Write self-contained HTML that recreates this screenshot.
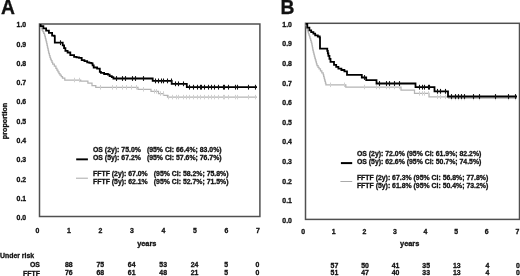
<!DOCTYPE html>
<html><head><meta charset="utf-8"><style>
html,body{margin:0;padding:0;background:#fff;width:520px;height:276px;overflow:hidden}
svg{display:block;will-change:transform}
text{font-family:"Liberation Sans", sans-serif;font-weight:bold;fill:#111;stroke:#111;stroke-width:0.3px}
</style></head><body>
<svg width="520" height="276" viewBox="0 0 520 276">
<rect x="39.5" y="24.0" width="220.40" height="192.50" fill="none" stroke="#505050" stroke-width="1.5"/>
<rect x="305.5" y="23.3" width="214.00" height="196.10" fill="none" stroke="#505050" stroke-width="1.5"/>
<path d="M39.60 24.80H40.50V26.80H41.30V28.44H42.10V30.08H42.90V31.72H43.70V33.36H44.50V35.00H44.94V36.74H45.38V38.48H45.82V40.22H46.26V41.96H46.70V43.70H47.07V45.37H47.43V47.03H47.80V48.70H48.17V50.37H48.53V52.03H48.90V53.70H49.43V55.50H49.97V57.30H50.50V59.10H51.23V60.73H51.97V62.37H52.70V64.00H54.30V66.20H55.90V68.40H56.92V70.10H57.95V71.80H58.98V73.50H60.00V75.20H61.25V76.60H62.50V78.00H64.80V79.80V80.00H80.70V81.20H87.90V83.20H92.00V85.60H95.80V87.30H138.00V89.30H151.00V91.30H158.50V93.50H163.50V95.40H167.50V97.10H257.00" fill="none" stroke="#b4b4b4" stroke-width="1.25"/>
<line x1="74.50" y1="77.75" x2="74.50" y2="82.25" stroke="#d0d0d0" stroke-width="1"/><line x1="79.50" y1="77.75" x2="79.50" y2="82.25" stroke="#d0d0d0" stroke-width="1"/><line x1="100.50" y1="85.05" x2="100.50" y2="89.55" stroke="#d0d0d0" stroke-width="1"/><line x1="112.50" y1="85.05" x2="112.50" y2="89.55" stroke="#d0d0d0" stroke-width="1"/><line x1="116.50" y1="85.05" x2="116.50" y2="89.55" stroke="#d0d0d0" stroke-width="1"/><line x1="122.50" y1="85.05" x2="122.50" y2="89.55" stroke="#d0d0d0" stroke-width="1"/><line x1="126.50" y1="85.05" x2="126.50" y2="89.55" stroke="#d0d0d0" stroke-width="1"/><line x1="131.50" y1="85.05" x2="131.50" y2="89.55" stroke="#d0d0d0" stroke-width="1"/><line x1="136.50" y1="85.05" x2="136.50" y2="89.55" stroke="#d0d0d0" stroke-width="1"/><line x1="143.50" y1="87.05" x2="143.50" y2="91.55" stroke="#d0d0d0" stroke-width="1"/><line x1="154.50" y1="89.05" x2="154.50" y2="93.55" stroke="#d0d0d0" stroke-width="1"/><line x1="156.50" y1="89.05" x2="156.50" y2="93.55" stroke="#d0d0d0" stroke-width="1"/><line x1="160.50" y1="91.25" x2="160.50" y2="95.75" stroke="#d0d0d0" stroke-width="1"/><line x1="163.50" y1="91.25" x2="163.50" y2="95.75" stroke="#d0d0d0" stroke-width="1"/><line x1="168.50" y1="94.85" x2="168.50" y2="99.35" stroke="#d0d0d0" stroke-width="1"/><line x1="172.50" y1="94.85" x2="172.50" y2="99.35" stroke="#d0d0d0" stroke-width="1"/><line x1="176.50" y1="94.85" x2="176.50" y2="99.35" stroke="#d0d0d0" stroke-width="1"/><line x1="178.50" y1="94.85" x2="178.50" y2="99.35" stroke="#d0d0d0" stroke-width="1"/><line x1="183.50" y1="94.85" x2="183.50" y2="99.35" stroke="#d0d0d0" stroke-width="1"/><line x1="186.50" y1="94.85" x2="186.50" y2="99.35" stroke="#d0d0d0" stroke-width="1"/><line x1="189.50" y1="94.85" x2="189.50" y2="99.35" stroke="#d0d0d0" stroke-width="1"/><line x1="193.50" y1="94.85" x2="193.50" y2="99.35" stroke="#d0d0d0" stroke-width="1"/><line x1="197.50" y1="94.85" x2="197.50" y2="99.35" stroke="#d0d0d0" stroke-width="1"/><line x1="200.50" y1="94.85" x2="200.50" y2="99.35" stroke="#d0d0d0" stroke-width="1"/><line x1="204.50" y1="94.85" x2="204.50" y2="99.35" stroke="#d0d0d0" stroke-width="1"/><line x1="208.50" y1="94.85" x2="208.50" y2="99.35" stroke="#d0d0d0" stroke-width="1"/><line x1="211.50" y1="94.85" x2="211.50" y2="99.35" stroke="#d0d0d0" stroke-width="1"/><line x1="214.50" y1="94.85" x2="214.50" y2="99.35" stroke="#d0d0d0" stroke-width="1"/><line x1="218.50" y1="94.85" x2="218.50" y2="99.35" stroke="#d0d0d0" stroke-width="1"/><line x1="223.50" y1="94.85" x2="223.50" y2="99.35" stroke="#d0d0d0" stroke-width="1"/><line x1="224.50" y1="94.85" x2="224.50" y2="99.35" stroke="#d0d0d0" stroke-width="1"/><line x1="228.50" y1="94.85" x2="228.50" y2="99.35" stroke="#d0d0d0" stroke-width="1"/><line x1="235.50" y1="94.85" x2="235.50" y2="99.35" stroke="#d0d0d0" stroke-width="1"/><line x1="237.50" y1="94.85" x2="237.50" y2="99.35" stroke="#d0d0d0" stroke-width="1"/><line x1="248.50" y1="94.85" x2="248.50" y2="99.35" stroke="#d0d0d0" stroke-width="1"/><line x1="255.50" y1="94.85" x2="255.50" y2="99.35" stroke="#d0d0d0" stroke-width="1"/>
<path d="M39.60 24.80H40.60V26.20H43.37V28.43H46.13V30.67H48.90V32.90H52.10V35.60H54.30V36.10H54.80V42.70H61.40H62.73V45.43H64.07V48.17H65.40V50.90H67.60V52.50H70.30V55.20H74.10V56.80H76.55V57.35H79.00V57.90H81.70V60.10H84.45V61.20H87.20V62.30H89.35V62.85H91.50V63.40H92.60V65.45H93.70V67.50H97.10V68.60H99.80V71.80H100.90V72.90H104.10V74.00H107.90V74.60H109.60V76.20H111.80V77.10H113.40V78.50H152.70V80.90H171.70V83.80H186.80V87.20H257.00" fill="none" stroke="#000" stroke-width="1.8"/>
<line x1="60.50" y1="40.30" x2="60.50" y2="45.10" stroke="#111" stroke-width="1.1"/><line x1="116.50" y1="76.10" x2="116.50" y2="80.90" stroke="#111" stroke-width="1.1"/><line x1="122.50" y1="76.10" x2="122.50" y2="80.90" stroke="#111" stroke-width="1.1"/><line x1="125.50" y1="76.10" x2="125.50" y2="80.90" stroke="#111" stroke-width="1.1"/><line x1="132.50" y1="76.10" x2="132.50" y2="80.90" stroke="#111" stroke-width="1.1"/><line x1="135.50" y1="76.10" x2="135.50" y2="80.90" stroke="#111" stroke-width="1.1"/><line x1="143.50" y1="76.10" x2="143.50" y2="80.90" stroke="#111" stroke-width="1.1"/><line x1="155.50" y1="78.50" x2="155.50" y2="83.30" stroke="#111" stroke-width="1.1"/><line x1="158.50" y1="78.50" x2="158.50" y2="83.30" stroke="#111" stroke-width="1.1"/><line x1="161.50" y1="78.50" x2="161.50" y2="83.30" stroke="#111" stroke-width="1.1"/><line x1="163.50" y1="78.50" x2="163.50" y2="83.30" stroke="#111" stroke-width="1.1"/><line x1="167.50" y1="78.50" x2="167.50" y2="83.30" stroke="#111" stroke-width="1.1"/><line x1="171.50" y1="78.50" x2="171.50" y2="83.30" stroke="#111" stroke-width="1.1"/><line x1="175.50" y1="81.40" x2="175.50" y2="86.20" stroke="#111" stroke-width="1.1"/><line x1="178.50" y1="81.40" x2="178.50" y2="86.20" stroke="#111" stroke-width="1.1"/><line x1="183.50" y1="81.40" x2="183.50" y2="86.20" stroke="#111" stroke-width="1.1"/><line x1="189.50" y1="84.80" x2="189.50" y2="89.60" stroke="#111" stroke-width="1.1"/><line x1="193.50" y1="84.80" x2="193.50" y2="89.60" stroke="#111" stroke-width="1.1"/><line x1="197.50" y1="84.80" x2="197.50" y2="89.60" stroke="#111" stroke-width="1.1"/><line x1="200.50" y1="84.80" x2="200.50" y2="89.60" stroke="#111" stroke-width="1.1"/><line x1="201.50" y1="84.80" x2="201.50" y2="89.60" stroke="#111" stroke-width="1.1"/><line x1="204.50" y1="84.80" x2="204.50" y2="89.60" stroke="#111" stroke-width="1.1"/><line x1="208.50" y1="84.80" x2="208.50" y2="89.60" stroke="#111" stroke-width="1.1"/><line x1="211.50" y1="84.80" x2="211.50" y2="89.60" stroke="#111" stroke-width="1.1"/><line x1="214.50" y1="84.80" x2="214.50" y2="89.60" stroke="#111" stroke-width="1.1"/><line x1="218.50" y1="84.80" x2="218.50" y2="89.60" stroke="#111" stroke-width="1.1"/><line x1="223.50" y1="84.80" x2="223.50" y2="89.60" stroke="#111" stroke-width="1.1"/><line x1="224.50" y1="84.80" x2="224.50" y2="89.60" stroke="#111" stroke-width="1.1"/><line x1="228.50" y1="84.80" x2="228.50" y2="89.60" stroke="#111" stroke-width="1.1"/><line x1="235.50" y1="84.80" x2="235.50" y2="89.60" stroke="#111" stroke-width="1.1"/><line x1="237.50" y1="84.80" x2="237.50" y2="89.60" stroke="#111" stroke-width="1.1"/><line x1="248.50" y1="84.80" x2="248.50" y2="89.60" stroke="#111" stroke-width="1.1"/><line x1="255.50" y1="84.80" x2="255.50" y2="89.60" stroke="#111" stroke-width="1.1"/>
<path d="M305.50 23.50H305.93V25.23H306.37V26.97H306.80V28.70H307.35V30.32H307.90V31.95H308.45V33.58H309.00V35.20H309.54V36.94H310.08V38.68H310.62V40.42H311.16V42.16H311.70V43.90H312.07V45.93H312.43V47.97H312.80V50.00H313.30V52.00H313.80V54.00H314.30V56.00H314.80V58.00H315.35V59.92H315.90V61.85H316.45V63.78H317.00V65.70H318.05V67.30H319.10V68.90H320.47V70.83H321.83V72.77H323.20V74.70H323.65V76.38H324.10V78.07H324.55V79.75H325.00V81.43H325.45V83.12H325.90V84.80H345.80V87.00H401.00V90.10H414.50V93.40H429.00V96.80H448.50V98.00H517.00" fill="none" stroke="#b4b4b4" stroke-width="1.25"/>
<line x1="330.50" y1="82.55" x2="330.50" y2="87.05" stroke="#d0d0d0" stroke-width="1"/><line x1="344.50" y1="82.55" x2="344.50" y2="87.05" stroke="#d0d0d0" stroke-width="1"/><line x1="364.50" y1="84.75" x2="364.50" y2="89.25" stroke="#d0d0d0" stroke-width="1"/><line x1="376.50" y1="84.75" x2="376.50" y2="89.25" stroke="#d0d0d0" stroke-width="1"/><line x1="379.50" y1="84.75" x2="379.50" y2="89.25" stroke="#d0d0d0" stroke-width="1"/><line x1="386.50" y1="84.75" x2="386.50" y2="89.25" stroke="#d0d0d0" stroke-width="1"/><line x1="389.50" y1="84.75" x2="389.50" y2="89.25" stroke="#d0d0d0" stroke-width="1"/><line x1="394.50" y1="84.75" x2="394.50" y2="89.25" stroke="#d0d0d0" stroke-width="1"/><line x1="399.50" y1="84.75" x2="399.50" y2="89.25" stroke="#d0d0d0" stroke-width="1"/><line x1="419.50" y1="91.15" x2="419.50" y2="95.65" stroke="#d0d0d0" stroke-width="1"/><line x1="422.50" y1="91.15" x2="422.50" y2="95.65" stroke="#d0d0d0" stroke-width="1"/><line x1="424.50" y1="91.15" x2="424.50" y2="95.65" stroke="#d0d0d0" stroke-width="1"/><line x1="428.50" y1="91.15" x2="428.50" y2="95.65" stroke="#d0d0d0" stroke-width="1"/><line x1="437.50" y1="94.55" x2="437.50" y2="99.05" stroke="#d0d0d0" stroke-width="1"/><line x1="440.50" y1="94.55" x2="440.50" y2="99.05" stroke="#d0d0d0" stroke-width="1"/><line x1="445.50" y1="94.55" x2="445.50" y2="99.05" stroke="#d0d0d0" stroke-width="1"/><line x1="451.50" y1="95.75" x2="451.50" y2="100.25" stroke="#d0d0d0" stroke-width="1"/><line x1="455.50" y1="95.75" x2="455.50" y2="100.25" stroke="#d0d0d0" stroke-width="1"/><line x1="458.50" y1="95.75" x2="458.50" y2="100.25" stroke="#d0d0d0" stroke-width="1"/><line x1="461.50" y1="95.75" x2="461.50" y2="100.25" stroke="#d0d0d0" stroke-width="1"/><line x1="464.50" y1="95.75" x2="464.50" y2="100.25" stroke="#d0d0d0" stroke-width="1"/><line x1="473.50" y1="95.75" x2="473.50" y2="100.25" stroke="#d0d0d0" stroke-width="1"/><line x1="479.50" y1="95.75" x2="479.50" y2="100.25" stroke="#d0d0d0" stroke-width="1"/><line x1="495.50" y1="95.75" x2="495.50" y2="100.25" stroke="#d0d0d0" stroke-width="1"/><line x1="508.50" y1="95.75" x2="508.50" y2="100.25" stroke="#d0d0d0" stroke-width="1"/><line x1="515.50" y1="95.75" x2="515.50" y2="100.25" stroke="#d0d0d0" stroke-width="1"/>
<path d="M305.60 23.80H307.30V27.60H309.40V30.30H311.20V32.10H313.40V33.60H315.20V35.40H317.80V36.50H319.70V37.60H320.00V48.60H326.70H327.27V50.97H327.83V53.43H328.40V55.90H329.45V58.85H330.50V61.80H334.00V64.90H336.20V66.80H338.40V68.70H341.40V70.00H344.40V71.30H347.00V72.50V74.80H361.80V77.50H366.20V80.20H376.50V83.50H415.50V87.20H434.50V91.30H448.00V96.50H517.00" fill="none" stroke="#000" stroke-width="1.8"/>
<line x1="364.50" y1="75.10" x2="364.50" y2="79.90" stroke="#111" stroke-width="1.1"/><line x1="379.50" y1="81.10" x2="379.50" y2="85.90" stroke="#111" stroke-width="1.1"/><line x1="386.50" y1="81.10" x2="386.50" y2="85.90" stroke="#111" stroke-width="1.1"/><line x1="389.50" y1="81.10" x2="389.50" y2="85.90" stroke="#111" stroke-width="1.1"/><line x1="394.50" y1="81.10" x2="394.50" y2="85.90" stroke="#111" stroke-width="1.1"/><line x1="399.50" y1="81.10" x2="399.50" y2="85.90" stroke="#111" stroke-width="1.1"/><line x1="419.50" y1="84.80" x2="419.50" y2="89.60" stroke="#111" stroke-width="1.1"/><line x1="422.50" y1="84.80" x2="422.50" y2="89.60" stroke="#111" stroke-width="1.1"/><line x1="424.50" y1="84.80" x2="424.50" y2="89.60" stroke="#111" stroke-width="1.1"/><line x1="428.50" y1="84.80" x2="428.50" y2="89.60" stroke="#111" stroke-width="1.1"/><line x1="429.50" y1="84.80" x2="429.50" y2="89.60" stroke="#111" stroke-width="1.1"/><line x1="437.50" y1="88.90" x2="437.50" y2="93.70" stroke="#111" stroke-width="1.1"/><line x1="440.50" y1="88.90" x2="440.50" y2="93.70" stroke="#111" stroke-width="1.1"/><line x1="445.50" y1="88.90" x2="445.50" y2="93.70" stroke="#111" stroke-width="1.1"/><line x1="451.50" y1="94.10" x2="451.50" y2="98.90" stroke="#111" stroke-width="1.1"/><line x1="455.50" y1="94.10" x2="455.50" y2="98.90" stroke="#111" stroke-width="1.1"/><line x1="458.50" y1="94.10" x2="458.50" y2="98.90" stroke="#111" stroke-width="1.1"/><line x1="461.50" y1="94.10" x2="461.50" y2="98.90" stroke="#111" stroke-width="1.1"/><line x1="464.50" y1="94.10" x2="464.50" y2="98.90" stroke="#111" stroke-width="1.1"/><line x1="473.50" y1="94.10" x2="473.50" y2="98.90" stroke="#111" stroke-width="1.1"/><line x1="479.50" y1="94.10" x2="479.50" y2="98.90" stroke="#111" stroke-width="1.1"/><line x1="495.50" y1="94.10" x2="495.50" y2="98.90" stroke="#111" stroke-width="1.1"/><line x1="508.50" y1="94.10" x2="508.50" y2="98.90" stroke="#111" stroke-width="1.1"/><line x1="515.50" y1="94.10" x2="515.50" y2="98.90" stroke="#111" stroke-width="1.1"/>
<text x="1.0" y="14.1" font-size="19.3" text-anchor="start" stroke="#111" stroke-width="0.7">A</text>
<text x="280.6" y="14.1" font-size="19.3" text-anchor="start" stroke="#111" stroke-width="0.7">B</text>
<text x="26.2" y="27.30" font-size="6.9" text-anchor="end" >1.0</text>
<text x="291.9" y="26.80" font-size="6.9" text-anchor="end" >1.0</text>
<text x="26.2" y="46.58" font-size="6.9" text-anchor="end" >0.9</text>
<text x="291.9" y="46.40" font-size="6.9" text-anchor="end" >0.9</text>
<text x="26.2" y="65.86" font-size="6.9" text-anchor="end" >0.8</text>
<text x="291.9" y="66.00" font-size="6.9" text-anchor="end" >0.8</text>
<text x="26.2" y="85.14" font-size="6.9" text-anchor="end" >0.7</text>
<text x="291.9" y="85.60" font-size="6.9" text-anchor="end" >0.7</text>
<text x="26.2" y="104.42" font-size="6.9" text-anchor="end" >0.6</text>
<text x="291.9" y="105.20" font-size="6.9" text-anchor="end" >0.6</text>
<text x="26.2" y="123.70" font-size="6.9" text-anchor="end" >0.5</text>
<text x="291.9" y="124.80" font-size="6.9" text-anchor="end" >0.5</text>
<text x="26.2" y="142.98" font-size="6.9" text-anchor="end" >0.4</text>
<text x="291.9" y="144.40" font-size="6.9" text-anchor="end" >0.4</text>
<text x="26.2" y="162.26" font-size="6.9" text-anchor="end" >0.3</text>
<text x="291.9" y="164.00" font-size="6.9" text-anchor="end" >0.3</text>
<text x="26.2" y="181.54" font-size="6.9" text-anchor="end" >0.2</text>
<text x="291.9" y="183.60" font-size="6.9" text-anchor="end" >0.2</text>
<text x="26.2" y="200.82" font-size="6.9" text-anchor="end" >0.1</text>
<text x="291.9" y="203.20" font-size="6.9" text-anchor="end" >0.1</text>
<text x="26.2" y="220.10" font-size="6.9" text-anchor="end" >0.0</text>
<text x="291.9" y="222.80" font-size="6.9" text-anchor="end" >0.0</text>
<text x="37.30" y="233.2" font-size="6.9" text-anchor="middle" >0</text>
<text x="303.10" y="233.6" font-size="6.9" text-anchor="middle" >0</text>
<text x="68.80" y="233.2" font-size="6.9" text-anchor="middle" >1</text>
<text x="333.70" y="233.6" font-size="6.9" text-anchor="middle" >1</text>
<text x="100.30" y="233.2" font-size="6.9" text-anchor="middle" >2</text>
<text x="364.30" y="233.6" font-size="6.9" text-anchor="middle" >2</text>
<text x="131.80" y="233.2" font-size="6.9" text-anchor="middle" >3</text>
<text x="394.90" y="233.6" font-size="6.9" text-anchor="middle" >3</text>
<text x="163.30" y="233.2" font-size="6.9" text-anchor="middle" >4</text>
<text x="425.50" y="233.6" font-size="6.9" text-anchor="middle" >4</text>
<text x="194.80" y="233.2" font-size="6.9" text-anchor="middle" >5</text>
<text x="456.10" y="233.6" font-size="6.9" text-anchor="middle" >5</text>
<text x="226.30" y="233.2" font-size="6.9" text-anchor="middle" >6</text>
<text x="486.70" y="233.6" font-size="6.9" text-anchor="middle" >6</text>
<text x="257.80" y="233.2" font-size="6.9" text-anchor="middle" >7</text>
<text x="517.30" y="233.6" font-size="6.9" text-anchor="middle" >7</text>
<text x="146.8" y="246.2" font-size="7.4" text-anchor="middle" >years</text>
<text x="409.7" y="246.1" font-size="7.4" text-anchor="middle" >years</text>
<text x="0" y="0" font-size="7.2" text-anchor="middle" transform="translate(6.8 121.0) rotate(-90)">proportion</text>
<rect x="76.2" y="158.4" width="11.7" height="1.9" fill="#000"/>
<rect x="76" y="177.7" width="11.9" height="1" fill="#aaa"/>
<text x="93" y="151.9" font-size="6.9" text-anchor="start" >OS (2y): 75.0%</text>
<text x="93" y="159.9" font-size="6.9" text-anchor="start" >OS (5y): 67.2%</text>
<text x="146.9" y="151.9" font-size="6.9" text-anchor="start" >(95% CI: 66.4%; 83.0%)</text>
<text x="146.9" y="159.9" font-size="6.9" text-anchor="start" >(95% CI: 57.6%; 76.7%)</text>
<text x="93" y="176.1" font-size="6.9" text-anchor="start" >FFTF (2y): 67.0%</text>
<text x="93" y="184.1" font-size="6.9" text-anchor="start" >FFTF (5y): 62.1%</text>
<text x="153.8" y="176.1" font-size="6.9" text-anchor="start" >(95% CI: 58.2%; 75.8%)</text>
<text x="153.8" y="184.1" font-size="6.9" text-anchor="start" >(95% CI: 52.7%; 71.5%)</text>
<rect x="340.9" y="162.1" width="11.3" height="2" fill="#000"/>
<rect x="340.4" y="181" width="11.8" height="1" fill="#aaa"/>
<text x="356.9" y="155.8" font-size="6.9" text-anchor="start" >OS (2y): 72.0% (95% CI: 61.9%; 82.2%)</text>
<text x="356.9" y="163.7" font-size="6.9" text-anchor="start" >OS (5y): 62.6% (95% CI: 50.7%; 74.5%)</text>
<text x="356.9" y="179.5" font-size="6.9" text-anchor="start" >FFTF (2y): 67.3% (95% CI: 56.8%; 77.8%)</text>
<text x="356.9" y="187.9" font-size="6.9" text-anchor="start" >FFTF (5y): 61.8% (95% CI: 50.4%; 73.2%)</text>
<text x="0" y="258.3" font-size="6.9" text-anchor="start" >Under risk</text>
<text x="39.9" y="267.1" font-size="6.9" text-anchor="end" >OS</text>
<text x="39.9" y="275.6" font-size="6.9" text-anchor="end" >FFTF</text>
<text x="68.80" y="266.8" font-size="6.9" text-anchor="middle" >88</text>
<text x="68.80" y="275.4" font-size="6.9" text-anchor="middle" >76</text>
<text x="334.40" y="267.5" font-size="6.9" text-anchor="middle" >57</text>
<text x="334.40" y="274.9" font-size="6.9" text-anchor="middle" >51</text>
<text x="100.25" y="266.8" font-size="6.9" text-anchor="middle" >75</text>
<text x="100.25" y="275.4" font-size="6.9" text-anchor="middle" >68</text>
<text x="365.00" y="267.5" font-size="6.9" text-anchor="middle" >50</text>
<text x="365.00" y="274.9" font-size="6.9" text-anchor="middle" >47</text>
<text x="131.70" y="266.8" font-size="6.9" text-anchor="middle" >64</text>
<text x="131.70" y="275.4" font-size="6.9" text-anchor="middle" >61</text>
<text x="395.60" y="267.5" font-size="6.9" text-anchor="middle" >41</text>
<text x="395.60" y="274.9" font-size="6.9" text-anchor="middle" >40</text>
<text x="163.15" y="266.8" font-size="6.9" text-anchor="middle" >53</text>
<text x="163.15" y="275.4" font-size="6.9" text-anchor="middle" >48</text>
<text x="426.20" y="267.5" font-size="6.9" text-anchor="middle" >35</text>
<text x="426.20" y="274.9" font-size="6.9" text-anchor="middle" >33</text>
<text x="194.60" y="266.8" font-size="6.9" text-anchor="middle" >24</text>
<text x="194.60" y="275.4" font-size="6.9" text-anchor="middle" >21</text>
<text x="456.80" y="267.5" font-size="6.9" text-anchor="middle" >13</text>
<text x="456.80" y="274.9" font-size="6.9" text-anchor="middle" >13</text>
<text x="226.05" y="266.8" font-size="6.9" text-anchor="middle" >5</text>
<text x="226.05" y="275.4" font-size="6.9" text-anchor="middle" >5</text>
<text x="487.40" y="267.5" font-size="6.9" text-anchor="middle" >4</text>
<text x="487.40" y="274.9" font-size="6.9" text-anchor="middle" >4</text>
<text x="257.50" y="266.8" font-size="6.9" text-anchor="middle" >0</text>
<text x="257.50" y="275.4" font-size="6.9" text-anchor="middle" >0</text>
<text x="518.00" y="267.5" font-size="6.9" text-anchor="middle" >0</text>
<text x="518.00" y="274.9" font-size="6.9" text-anchor="middle" >0</text>
</svg>
</body></html>
